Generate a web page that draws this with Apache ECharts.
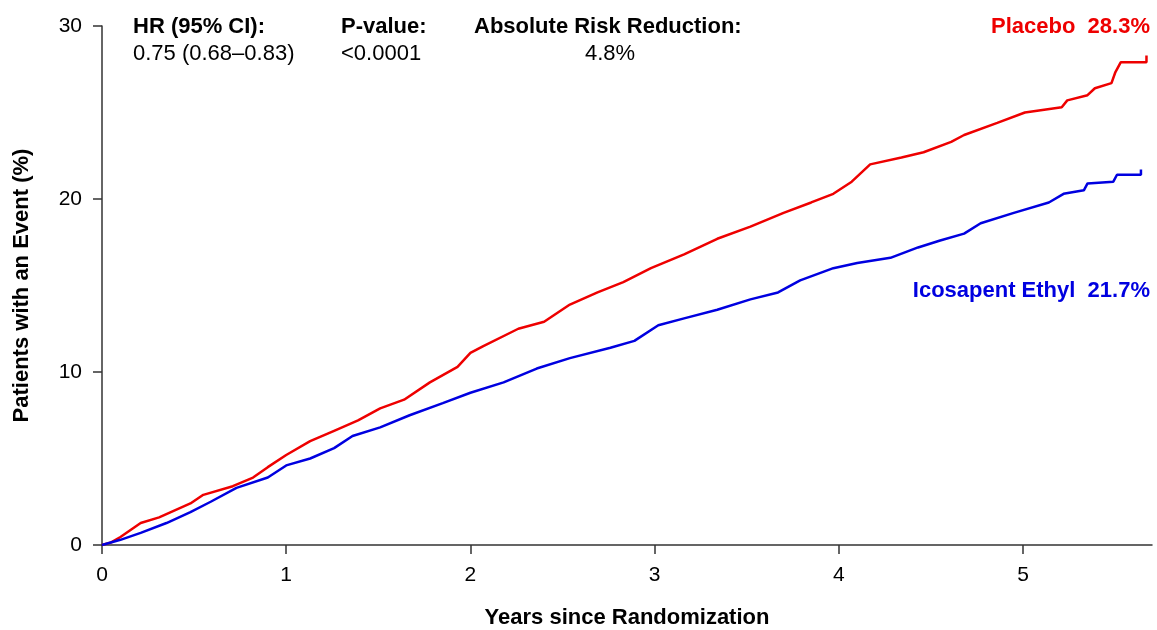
<!DOCTYPE html>
<html>
<head>
<meta charset="utf-8">
<script src="https://cdn.jsdelivr.net/npm/echarts@6/dist/echarts.min.js"></script>
<style>
html,body{margin:0;padding:0;background:#fff;}
#chart{width:1157px;height:630px;}
</style>
</head>
<body>
<div id="chart"></div>
<script>
// Kaplan-Meier style cumulative incidence
const placeboTime = [0,0.05,0.1,0.21,0.31,0.48,0.55,0.71,0.82,0.9,1.0,1.13,1.26,1.39,1.51,1.64,1.78,1.93,2.0,2.07,2.26,2.40,2.54,2.69,2.83,2.98,3.16,3.34,3.52,3.70,3.85,3.97,4.07,4.17,4.34,4.46,4.61,4.68,4.86,5.01,5.21,5.24,5.35,5.39,5.48,5.50,5.53,5.67,5.67];
const placeboPct  = [0,0.15,0.46,1.27,1.6,2.4,2.9,3.4,3.9,4.5,5.2,6.0,6.6,7.2,7.9,8.4,9.4,10.3,11.1,11.5,12.5,12.9,13.9,14.6,15.2,16.0,16.8,17.7,18.4,19.2,19.8,20.3,21.0,22.0,22.4,22.7,23.3,23.7,24.4,25.0,25.3,25.7,26.0,26.4,26.7,27.3,27.9,27.9,28.3];
const icosaTime = [0,0.1,0.21,0.35,0.48,0.59,0.73,0.9,1.0,1.13,1.26,1.36,1.51,1.67,1.85,2.0,2.18,2.36,2.54,2.76,2.89,3.02,3.16,3.34,3.52,3.67,3.79,3.97,4.10,4.28,4.43,4.55,4.68,4.77,4.95,5.14,5.22,5.33,5.35,5.49,5.51,5.64,5.64];
const icosaPct  = [0,0.3,0.7,1.27,1.9,2.5,3.3,3.9,4.6,5.0,5.6,6.3,6.8,7.5,8.2,8.8,9.4,10.2,10.8,11.4,11.8,12.7,13.1,13.6,14.2,14.6,15.3,16.0,16.3,16.6,17.2,17.6,18.0,18.6,19.2,19.8,20.3,20.5,20.9,21.0,21.4,21.4,21.7];
const xTicks = [0,1,2,3,4,5];
const yTicks = [0,10,20,30];
const seriesNames = ['Placebo','Icosapent Ethyl'];
const endLabels = ['Placebo  28.3%','Icosapent Ethyl  21.7%'];
const statHeaders = ['HR (95% CI):','P-value:','Absolute Risk Reduction:'];
const statValues = ['0.75 (0.68\u20130.83)','<0.0001','4.8%'];

const RED = '#ee0000', BLUE = '#0000e0';
const FONT = '"Liberation Sans", Arial, sans-serif';
const chart = echarts.init(document.getElementById('chart'));
const zip = (t, v) => t.map((x, i) => [x, v[i]]);

const option = {
  animation: false,
  backgroundColor: '#fff',
  grid: {left: 102, right: 5, top: 26, bottom: 85, containLabel: false, outerBoundsMode: 'none'},
  xAxis: {
    type: 'value', min: 0, max: 5.7, interval: 1,
    name: 'Years since Randomization', nameLocation: 'middle', nameGap: 62,
    nameTextStyle: {fontFamily: FONT, fontSize: 22, fontWeight: 'bold', color: '#000'},
    splitLine: {show: false},
    axisLine: {show: true, onZero: false, lineStyle: {color: '#333', width: 1.5}},
    axisTick: {show: true, length: 9, customValues: xTicks, lineStyle: {color: '#333', width: 1.5}},
    axisLabel: {customValues: xTicks, margin: 20, fontFamily: FONT, fontSize: 21, color: '#000'}
  },
  yAxis: {
    type: 'value', min: 0, max: 30, interval: 10,
    name: 'Patients with an Event (%)', nameLocation: 'middle', nameGap: 69, nameRotate: 90,
    nameTextStyle: {fontFamily: FONT, fontSize: 22, fontWeight: 'bold', color: '#000'},
    splitLine: {show: false},
    axisLine: {show: true, lineStyle: {color: '#333', width: 1.5}},
    axisTick: {show: true, length: 9, customValues: yTicks, lineStyle: {color: '#333', width: 1.5}},
    axisLabel: {customValues: yTicks, margin: 20, fontFamily: FONT, fontSize: 21, color: '#000'}
  },
  series: [
    {name: seriesNames[0], type: 'line', data: zip(placeboTime, placeboPct), showSymbol: false,
     lineStyle: {color: RED, width: 2.5}, itemStyle: {color: RED}, z: 3},
    {name: seriesNames[1], type: 'line', data: zip(icosaTime, icosaPct), showSymbol: false,
     lineStyle: {color: BLUE, width: 2.5}, itemStyle: {color: BLUE}, z: 3}
  ],
  graphic: [
    {type: 'text', left: 133, top: 16, style: {text: statHeaders[0], font: 'bold 22px ' + FONT, fill: '#000'}},
    {type: 'text', left: 133, top: 43, style: {text: statValues[0], font: '22px ' + FONT, fill: '#000'}},
    {type: 'text', left: 341, top: 16, style: {text: statHeaders[1], font: 'bold 22px ' + FONT, fill: '#000'}},
    {type: 'text', left: 341, top: 43, style: {text: statValues[1], font: '22px ' + FONT, fill: '#000'}},
    {type: 'text', left: 474, top: 16, style: {text: statHeaders[2], font: 'bold 22px ' + FONT, fill: '#000'}},
    {type: 'text', x: 610, y: 43, style: {text: statValues[2], font: '22px ' + FONT, fill: '#000', align: 'center'}},
    {type: 'text', right: 7, top: 16, style: {text: endLabels[0], font: 'bold 22px ' + FONT, fill: RED}},
    {type: 'text', right: 7, top: 280, style: {text: endLabels[1], font: 'bold 22px ' + FONT, fill: BLUE}}
  ]
};
chart.setOption(option);
</script>
</body>
</html>
